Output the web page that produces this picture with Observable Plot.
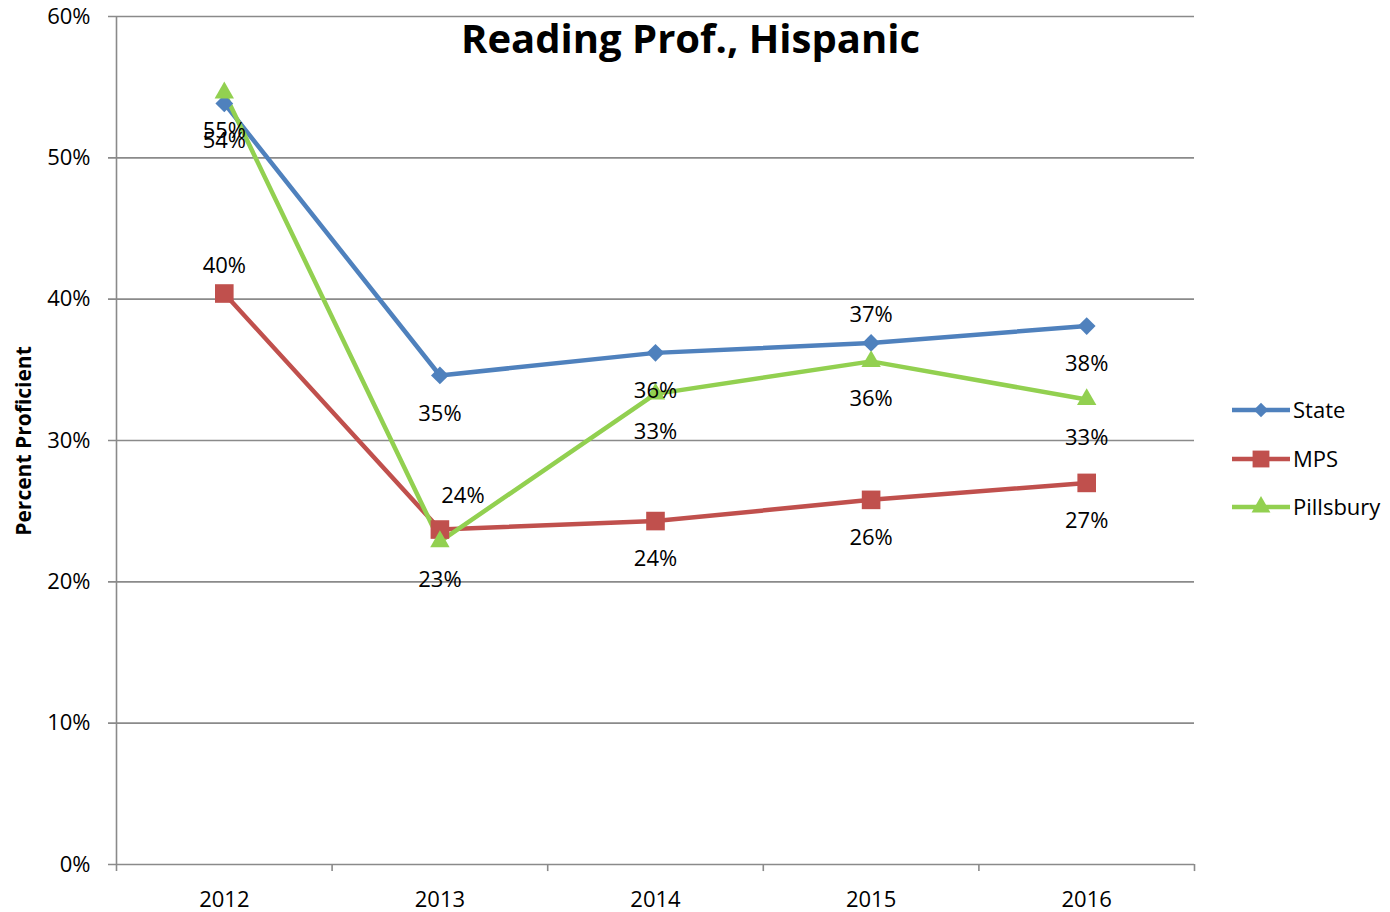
<!DOCTYPE html>
<html><head><meta charset="utf-8">
<script src="https://cdn.jsdelivr.net/npm/d3@7"></script>
<script src="https://cdn.jsdelivr.net/npm/@observablehq/plot@0.6"></script>
<style>
body{margin:0;background:#fff;font-family:"Open Sans",sans-serif;}
#wrap{position:relative;width:1390px;height:912px;overflow:hidden;}
#overlay{position:absolute;left:0;top:0;pointer-events:none;}
</style></head><body><div id="wrap"></div>
<script>
const title = "Reading Prof., Hispanic";
const yLabel = "Percent Proficient";
const years = ["2012", "2013", "2014", "2015", "2016"];
const seriesNames = ["State", "MPS", "Pillsbury"];
const stateValues = [53.85, 34.6, 36.2, 36.9, 38.1];
const mpsValues = [40.4, 23.7, 24.3, 25.8, 27.0];
const pillsburyValues = [54.6, 22.85, 33.3, 35.6, 32.9];
const stateLabelPlacement = ["below", "below", "below", "above", "below"];
const mpsLabelPlacement = ["above", "above-right", "below", "below", "below"];
const pillsburyLabelPlacement = ["below", "below", "below", "below", "below"];
const yTicks = [0, 10, 20, 30, 40, 50, 60];
const seriesColors = ["#4F81BD", "#C0504D", "#92D050"];
const seriesSymbols = ["diamond2", "square", "triangle"];
const symbolRadius = [8, 10.5, 7.2];

const valuesBySeries = [stateValues, mpsValues, pillsburyValues];
const placementBySeries = [stateLabelPlacement, mpsLabelPlacement, pillsburyLabelPlacement];
const rows = [];
seriesNames.forEach((s, si) => years.forEach((yr, i) => rows.push({
  series: s, year: yr, value: valuesBySeries[si][i], placement: placementBySeries[si][i]
})));

const W = 1390, H = 912, ML = 116, MR = 196, MT = 16, MB = 48;
const step = (W - ML - MR) / years.length;
const grid = "#8a8a8a";
const font = "Open Sans";
const fmt = d => Math.round(d.value) + "%";

const marks = [
  Plot.ruleY(yTicks, {y: d => d, stroke: grid, strokeWidth: 1.6, insetLeft: -8}),
  Plot.ruleX([years[0]], {x: d => d, dx: -step / 2, y1: -0.5, y2: 60, stroke: grid, strokeWidth: 1.6}),
  Plot.ruleX(years, {x: d => d, dx: step / 2, y1: -0.5, y2: 0, stroke: grid, strokeWidth: 1.6}),
  Plot.line(rows, {x: "year", y: "value", z: "series", stroke: "series", strokeWidth: 4.5})
];
seriesNames.forEach((s, si) => {
  marks.push(Plot.dot(rows.filter(d => d.series === s), {
    x: "year", y: "value", symbol: () => seriesSymbols[si], fill: "series", stroke: "none", r: symbolRadius[si]
  }));
});
const textOpts = {x: "year", y: "value", text: fmt, fill: "#000", fontSize: 22, fontFamily: font};
marks.push(
  Plot.text(rows.filter(d => d.placement === "below"), {...textOpts, dy: 38}),
  Plot.text(rows.filter(d => d.placement === "above"), {...textOpts, dy: -28}),
  Plot.text(rows.filter(d => d.placement === "above-right"), {...textOpts, dy: -34, dx: 23})
);

const chart = Plot.plot({
  width: W, height: H,
  marginLeft: ML, marginRight: MR, marginTop: MT, marginBottom: MB,
  x: {type: "point", domain: years, padding: 0.5, round: false, tickSize: 0, tickPadding: 27, label: null},
  y: {domain: [0, 60], ticks: yTicks, tickFormat: d => d + "%", tickSize: 0, tickPadding: 26, label: null},
  color: {domain: seriesNames, range: seriesColors},
  symbol: {domain: seriesSymbols, range: seriesSymbols},
  style: {fontFamily: font, fontSize: "22px", color: "#000", background: "#fff", overflow: "visible"},
  marks
});
document.getElementById("wrap").appendChild(chart);

// overlay: title, y label, legend
const ov = d3.select("#wrap").append("svg").attr("id", "overlay").attr("width", W).attr("height", H);
ov.append("text").attr("x", 690.5).attr("y", 53).attr("text-anchor", "middle")
  .attr("font-family", font).attr("font-weight", "bold").attr("font-size", 40).text(title);
ov.append("text").attr("transform", "translate(31,441) rotate(-90)").attr("text-anchor", "middle")
  .attr("font-family", font).attr("font-weight", "bold").attr("font-size", 21).text(yLabel);
const legendY = [410, 459, 507];
const symMap = {diamond2: d3.symbolDiamond2, square: d3.symbolSquare, triangle: d3.symbolTriangle};
const legendR = [6.5, 9.5, 7];
seriesNames.forEach((s, i) => {
  const g = ov.append("g").attr("transform", `translate(0,${legendY[i]})`);
  g.append("line").attr("x1", 1232).attr("x2", 1290).attr("stroke", seriesColors[i]).attr("stroke-width", 4.5);
  g.append("path").attr("transform", "translate(1261,0)").attr("fill", seriesColors[i])
    .attr("d", d3.symbol(symMap[seriesSymbols[i]], legendR[i] * legendR[i] * Math.PI)());
  g.append("text").attr("x", 1293).attr("dy", "0.35em").attr("font-family", font).attr("font-size", 22).text(s);
});
</script></body></html>
